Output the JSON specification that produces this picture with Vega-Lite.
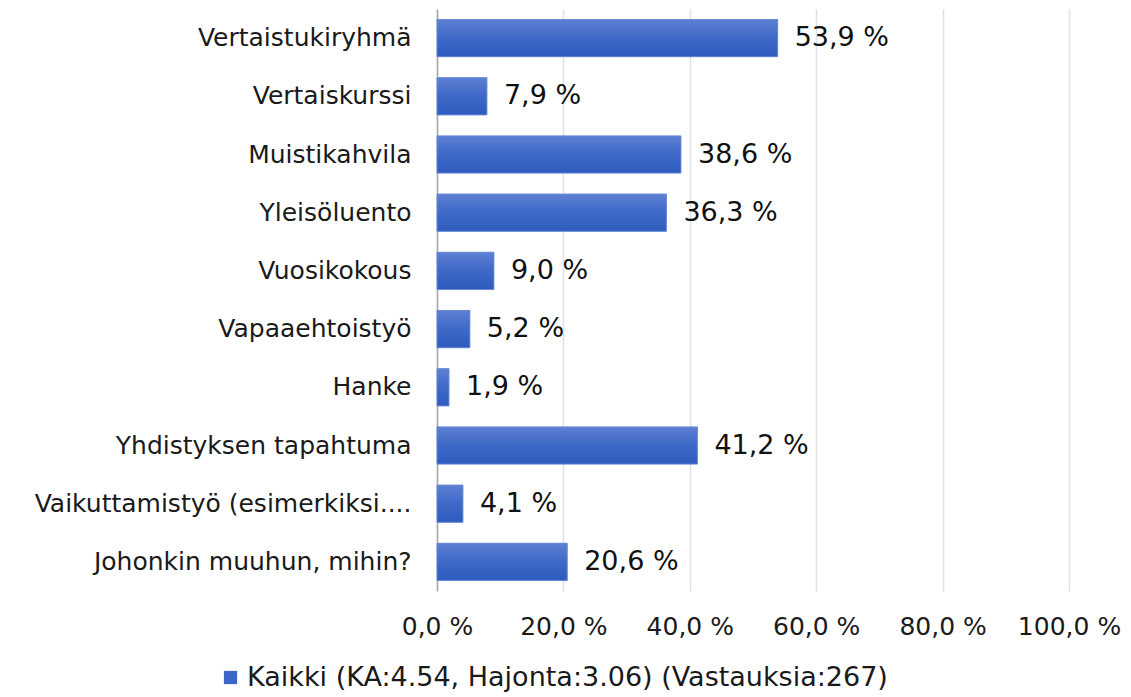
{
  "$schema": "https://vega.github.io/schema/vega-lite/v6.json",
  "autosize": {"type": "none"},
  "width": 632,
  "height": 582,
  "padding": {"left": 437, "top": 9, "right": 62, "bottom": 106},
  "background": "#ffffff",
  "config": {
    "view": {"stroke": null},
    "font": "DejaVu Sans"
  },
  "data": {
    "values": [
      {"category": "Vertaistukiryhmä", "pct": 53.9, "label": "53,9 %", "series": "Kaikki (KA:4.54, Hajonta:3.06) (Vastauksia:267)"},
      {"category": "Vertaiskurssi", "pct": 7.9, "label": "7,9 %", "series": "Kaikki (KA:4.54, Hajonta:3.06) (Vastauksia:267)"},
      {"category": "Muistikahvila", "pct": 38.6, "label": "38,6 %", "series": "Kaikki (KA:4.54, Hajonta:3.06) (Vastauksia:267)"},
      {"category": "Yleisöluento", "pct": 36.3, "label": "36,3 %", "series": "Kaikki (KA:4.54, Hajonta:3.06) (Vastauksia:267)"},
      {"category": "Vuosikokous", "pct": 9.0, "label": "9,0 %", "series": "Kaikki (KA:4.54, Hajonta:3.06) (Vastauksia:267)"},
      {"category": "Vapaaehtoistyö", "pct": 5.2, "label": "5,2 %", "series": "Kaikki (KA:4.54, Hajonta:3.06) (Vastauksia:267)"},
      {"category": "Hanke", "pct": 1.9, "label": "1,9 %", "series": "Kaikki (KA:4.54, Hajonta:3.06) (Vastauksia:267)"},
      {"category": "Yhdistyksen tapahtuma", "pct": 41.2, "label": "41,2 %", "series": "Kaikki (KA:4.54, Hajonta:3.06) (Vastauksia:267)"},
      {"category": "Vaikuttamistyö (esimerkiksi....", "pct": 4.1, "label": "4,1 %", "series": "Kaikki (KA:4.54, Hajonta:3.06) (Vastauksia:267)"},
      {"category": "Johonkin muuhun, mihin?", "pct": 20.6, "label": "20,6 %", "series": "Kaikki (KA:4.54, Hajonta:3.06) (Vastauksia:267)"}
    ]
  },
  "encoding": {
    "y": {
      "field": "category",
      "type": "nominal",
      "sort": null,
      "scale": {"paddingInner": 0.36, "paddingOuter": 0.18},
      "axis": {
        "title": null,
        "ticks": false,
        "domain": true,
        "domainColor": "#a6a6a6",
        "domainWidth": 1.5,
        "labelFontSize": 25,
        "labelColor": "#1a1a1a",
        "labelPadding": 26,
        "labelLimit": 600,
        "grid": false
      }
    },
    "x": {
      "field": "pct",
      "type": "quantitative",
      "scale": {"domain": [0, 100], "nice": false},
      "axis": {
        "title": null,
        "values": [0, 20, 40, 60, 80, 100],
        "labelExpr": "replace(format(datum.value, '.1f'), '.', ',') + ' %'",
        "labelOverlap": false,
        "labelBound": false,
        "labelFlush": false,
        "ticks": false,
        "domain": false,
        "grid": true,
        "gridColor": "#dce2ec",
        "gridWidth": 1.5,
        "labelFontSize": 25,
        "labelColor": "#1a1a1a",
        "labelPadding": 23
      }
    }
  },
  "layer": [
    {
      "mark": {"type": "bar"},
      "encoding": {
        "color": {
          "field": "series",
          "type": "nominal",
          "scale": {"range": ["#3b66c6"]},
          "legend": {
            "title": null,
            "orient": "none",
            "legendX": -220,
            "legendY": 655,
            "symbolType": "square",
            "symbolSize": 175,
            "symbolStrokeWidth": 0,
            "labelFontSize": 27,
            "labelColor": "#1a1a1a",
            "labelOffset": 3,
            "labelLimit": 1000
          }
        }
      }
    },
    {
      "mark": {
        "type": "bar",
        "stroke": "#6a8ad6",
        "strokeWidth": 1,
        "color": {
          "gradient": "linear",
          "x1": 0, "y1": 0, "x2": 0, "y2": 1,
          "stops": [
            {"offset": 0, "color": "#5d80d2"},
            {"offset": 0.5, "color": "#3e69c8"},
            {"offset": 1, "color": "#2d5bbd"}
          ]
        }
      }
    },
    {
      "mark": {"type": "text", "align": "left", "baseline": "middle", "dx": 17, "fontSize": 27, "color": "#111111"},
      "encoding": {"text": {"field": "label"}}
    }
  ]
}
